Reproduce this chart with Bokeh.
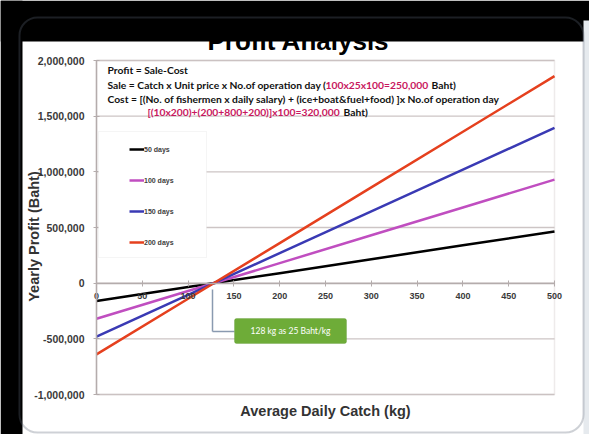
import math
from bokeh.plotting import figure
from bokeh.models import (Range1d, NumeralTickFormatter, FixedTicker, Legend, LegendItem,
                          BoxAnnotation, Label, Arrow, LinearAxis)
from bokeh.embed import file_html
from bokeh.resources import INLINE

# ---- data ----
catch_kg = [0, 100, 200, 300, 400, 500]
profit_50_days = [-160000, -35000, 90000, 215000, 340000, 465000]
profit_100_days = [-320000, -70000, 180000, 430000, 680000, 930000]
profit_150_days = [-480000, -105000, 270000, 645000, 1020000, 1395000]
profit_200_days = [-640000, -140000, 360000, 860000, 1360000, 1860000]
series_labels = ["50 days", "100 days", "150 days", "200 days"]
series_colors = ["#000000", "#c04ec0", "#3a3ab4", "#e5401e"]
x_ticks = [0, 50, 100, 150, 200, 250, 300, 350, 400, 450, 500]
y_ticks = [-1000000, -500000, 0, 500000, 1000000, 1500000, 2000000]
x_min, x_max = 0, 500
y_min, y_max = -1000000, 2000000
title_text = "Profit Analysis"
x_title = "Average Daily Catch (kg)"
y_title = "Yearly Profit (Baht)"
note_lines = [
    [("Profit = Sale-Cost", "#111111")],
    [("Sale = Catch x Unit price x No.of operation day (", "#111111"),
     ("100x25x100=250,000", "#c8185e"), ("Baht)", "#111111")],
    [("Cost = [(No. of fishermen x daily salary) + (ice+boat&fuel+food) ]x No.of operation day", "#111111")],
    [("[(10x200)+(200+800+200)]x100=320,000", "#c8185e"), ("Baht)", "#111111")],
]
callout_text = "128 kg as 25 Baht/kg"

# ---- layout (pixels) ----
W, H = 589, 434
PL, PR, PT, PB = 96, 554, 60, 394   # plot area inside the canvas

sx = (PR - PL) / (x_max - x_min)
sy = (PB - PT) / (y_max - y_min)
xr = Range1d(x_min - PL / sx, x_max + (W - PR) / sx)
yr = Range1d(y_min - (H - PB) / sy, y_max + PT / sy)

p = figure(width=W, height=H, output_backend="svg", toolbar_location=None,
           x_range=xr, y_range=yr, x_axis_location=None, y_axis_location=None,
           min_border=0, background_fill_color="white", border_fill_color="white")
p.outline_line_color = None
p.grid.visible = False


def cbox(l, r, t, b, **kw):
    return BoxAnnotation(left=l, right=r, top=t, bottom=b,
                         left_units="canvas", right_units="canvas",
                         top_units="canvas", bottom_units="canvas", **kw)


# decorative slide frame
p.add_layout(Label(x=298, y=40, x_units="canvas", y_units="canvas", text=title_text,
                   text_font="Liberation Sans", text_font_style="bold", text_font_size="26px",
                   text_color="black", text_align="center", text_baseline="alphabetic"))
p.add_layout(cbox(0, W, 0, 41, fill_color="black", fill_alpha=1, line_color=None))
p.add_layout(cbox(0, 22, 0, H, fill_color="black", fill_alpha=1, line_color=None))
p.add_layout(cbox(583, W, 20, H, fill_color="#e6eaee", fill_alpha=1, line_color=None))
p.add_layout(cbox(19, 583, 17, 432, fill_color=None, fill_alpha=0, line_color="#5d6676",
                  line_width=2, border_radius=18))

# plot-area frame and gridlines
p.add_layout(BoxAnnotation(left=x_min, right=x_max, bottom=y_min, top=y_max, fill_alpha=0,
                           fill_color=None, line_color="#c6bebe", line_width=1.5, level="underlay"))
p.segment(x0=[x_min] * len(y_ticks), x1=[x_max] * len(y_ticks), y0=y_ticks, y1=y_ticks,
          line_color="#cdc5c5", line_width=1.3, level="underlay")

# axes (fixed inside the canvas)
yax = LinearAxis(fixed_location=0, bounds=(y_min, y_max), ticker=FixedTicker(ticks=y_ticks),
                 formatter=NumeralTickFormatter(format="0,0"))
xax = LinearAxis(fixed_location=0, bounds=(x_min, x_max), ticker=FixedTicker(ticks=x_ticks))
for ax in (xax, yax):
    ax.axis_line_color = "#b4acac"
    ax.axis_line_width = 1.5
    ax.major_tick_line_color = "#b4acac"
    ax.major_tick_in = 3
    ax.major_tick_out = 3
    ax.minor_tick_line_color = None
    ax.major_label_text_font = "Liberation Sans"
    ax.major_label_text_font_style = "bold"
    ax.major_label_text_color = "#3a3a3a"
yax.major_label_text_font_size = "10.5px"
yax.major_label_standoff = 9
xax.major_label_text_font_size = "9px"
xax.major_label_standoff = 7
p.add_layout(yax, "left")
p.add_layout(xax, "below")

p.add_layout(Label(x=325, y=410, x_units="canvas", y_units="canvas", text=x_title,
                   text_font="Liberation Sans", text_font_style="bold", text_font_size="14.5px",
                   text_color="#333333", text_align="center", text_baseline="middle"))
p.add_layout(Label(x=33, y=236, x_units="canvas", y_units="canvas", text=y_title, angle=math.pi / 2,
                   text_font="Liberation Sans", text_font_style="bold", text_font_size="14.5px",
                   text_color="#333333", text_align="center", text_baseline="middle"))

# legend box
p.add_layout(cbox(98, 206, 131, 257, fill_color="white", fill_alpha=1, line_color="#dedede", line_width=1))

# lines
series = [profit_50_days, profit_100_days, profit_150_days, profit_200_days]
items = []
for lab, col, vals in zip(series_labels, series_colors, series):
    r = p.line(catch_kg, vals, line_color=col, line_width=2.5)
    items.append(LegendItem(label=lab, renderers=[r]))

legend = Legend(items=items, location=(129, H - 250), padding=0, spacing=15, glyph_height=16,
                glyph_width=15, label_standoff=0, border_line_color=None, background_fill_alpha=0,
                label_text_font="Liberation Sans", label_text_font_size="7px",
                label_text_font_style="bold", label_text_color="#404040")
p.add_layout(legend)

# note text block
line_y = [69, 84, 98, 111]
line_x = [[107], [107, 325, 431], [107], [147, 343]]
for segs, yy, xs in zip(note_lines, line_y, line_x):
    for (txt, col), xx in zip(segs, xs):
        p.add_layout(Label(x=xx, y=yy, x_units="canvas", y_units="canvas", text=txt,
                           text_font="Lato", text_font_style="bold", text_font_size="10.3px",
                           text_color=col, text_align="left", text_baseline="middle"))

# callout
p.add_layout(Arrow(end=None, x_start=212, y_start=289, x_end=212, y_end=331,
                   start_units="canvas", end_units="canvas", line_color="#8a9ab0", line_width=1.5))
p.add_layout(Arrow(end=None, x_start=212, y_start=331, x_end=234, y_end=331,
                   start_units="canvas", end_units="canvas", line_color="#8a9ab0", line_width=1.5))
p.add_layout(cbox(234, 346, 318, 343, fill_color="#6eac38", fill_alpha=1, line_color="#5a9530",
                  line_width=1, border_radius=2))
p.add_layout(Label(x=290, y=330.5, x_units="canvas", y_units="canvas", text=callout_text,
                   text_font="Lato", text_font_size="8.5px", text_color="white",
                   text_align="center", text_baseline="middle"))

open("out.html", "w").write(file_html(p, INLINE))
